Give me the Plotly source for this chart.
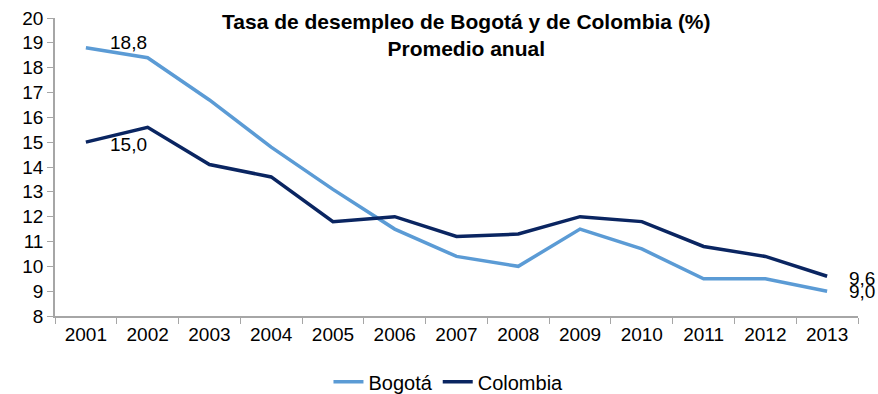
import plotly.graph_objects as go

years = ["2001", "2002", "2003", "2004", "2005", "2006", "2007",
         "2008", "2009", "2010", "2011", "2012", "2013"]
bogota = [18.8, 18.4, 16.7, 14.8, 13.1, 11.5, 10.4, 10.0, 11.5, 10.7, 9.5, 9.5, 9.0]
colombia = [15.0, 15.6, 14.1, 13.6, 11.8, 12.0, 11.2, 11.3, 12.0, 11.8, 10.8, 10.4, 9.6]

FONT = "Liberation Sans, Arial, sans-serif"
AXIS_GRAY = "#A6A6A6"

fig = go.Figure()
fig.add_trace(go.Scatter(x=years, y=bogota, mode="lines", name="Bogotá",
                         line=dict(color="#5B9BD5", width=3.5)))
fig.add_trace(go.Scatter(x=years, y=colombia, mode="lines", name="Colombia",
                         line=dict(color="#0A2561", width=3.5)))

def fmt(v):
    return f"{v:.1f}".replace(".", ",")

label_font = dict(size=19, color="#000000", family=FONT)

# value labels for the first year, just right of the 2001 points
for y, ys in ((bogota[0], 5), (colombia[0], -2)):
    fig.add_annotation(x=0, y=y, text=fmt(y), showarrow=False, xanchor="left",
                       yanchor="middle", xshift=22, yshift=ys, font=label_font)

# value labels for the last year, placed at the right edge of the chart
for y, ys in ((colombia[-1], -2), (bogota[-1], 0)):
    fig.add_annotation(xref="paper", x=1, y=y, text=fmt(y), showarrow=False,
                       xanchor="right", yanchor="middle", xshift=18, yshift=ys,
                       borderpad=0, font=label_font)

# two-line title
fig.add_annotation(xref="paper", yref="paper", x=0.512, y=1.035, xanchor="center",
                   yanchor="top", showarrow=False,
                   text="<b>Tasa de desempleo de Bogotá y de Colombia (%)<br>Promedio anual</b>",
                   font=dict(size=21, family=FONT, color="#000000"))

fig.update_layout(
    width=878, height=394,
    margin=dict(l=55, r=20, t=18, b=78, autoexpand=False),
    paper_bgcolor="white", plot_bgcolor="white",
    font=dict(family=FONT, size=19, color="#000000"),
    showlegend=True,
    legend=dict(orientation="h", x=0.49, xanchor="center", y=-0.221, yanchor="middle",
                font=dict(size=20, family=FONT), tracegroupgap=0),
    xaxis=dict(type="category", range=[-0.5, 12.5], showline=True, linecolor=AXIS_GRAY,
               linewidth=1.5, ticks="outside", tickson="boundaries", ticklen=6,
               tickcolor=AXIS_GRAY, showgrid=False, tickfont=dict(size=19), fixedrange=True),
    yaxis=dict(range=[8, 20], dtick=1, showline=True, linecolor=AXIS_GRAY, linewidth=1.5,
               ticks="outside", ticklen=6, tickcolor=AXIS_GRAY, showgrid=False,
               zeroline=False, tickfont=dict(size=19), fixedrange=True),
)

fig.write_html("out.html")
